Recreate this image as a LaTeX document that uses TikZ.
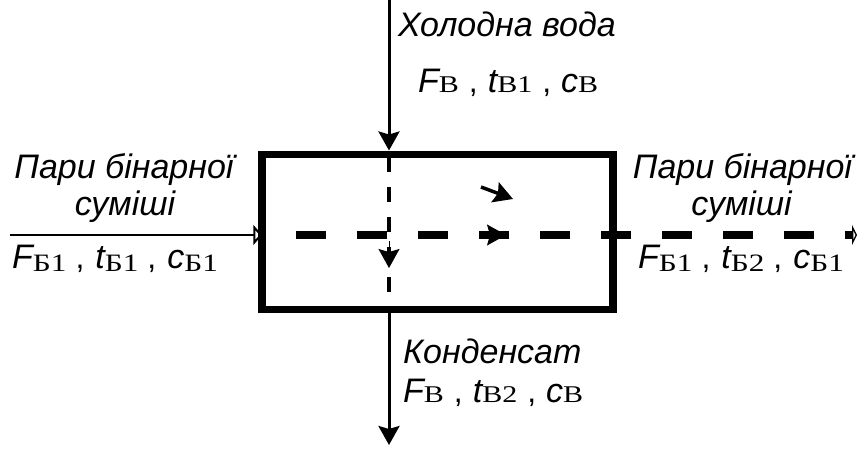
\documentclass[tikz,border=0pt]{standalone}
\usepackage{fontspec}
\setmainfont{Liberation Sans}
\newfontfamily\subserif[FakeStretch=1.25]{Liberation Serif}
\usetikzlibrary{arrows.meta}

\newcommand{\subsm}[1]{{\fontsize{24}{24}\selectfont\subserif #1}}
\newcommand{\sublg}[1]{\raisebox{-3pt}{\fontsize{25}{25}\selectfont\subserif #1}}
\newcommand{\vrb}[1]{{\fontsize{34}{34}\selectfont\itshape #1}}
\newcommand{\sepsm}{\hspace{10pt},\hspace{10pt}}
\newcommand{\seplg}{\hspace{9pt},\hspace{11pt}}

\begin{document}
\begin{tikzpicture}[x=1pt,y=-1pt,
    lbl/.style={inner sep=0pt, font=\fontsize{34}{34}\selectfont\itshape},
    frm/.style={inner sep=0pt, font=\fontsize{32}{32}\selectfont},
    feed/.style={line width=3pt},
    flowtip/.style={-{Stealth[length=19pt,width=21pt,inset=3pt]}}]
  \useasboundingbox (0,0) rectangle (860,455);
  \coordinate (wtop) at (389,0);
  \coordinate (wbot) at (389,445);
  \coordinate (vin) at (10,235);
  \coordinate (vout) at (857,235);
  \coordinate (dvtop) at (389,157);
  \coordinate (dvbot) at (389,306);
  \coordinate (dhst) at (265,235);
  \coordinate (avs) at (389,241);
  \coordinate (ave) at (389,268);
  \coordinate (ahs) at (482,235);
  \coordinate (ahe) at (506,235);
  \coordinate (ass) at (481,187);
  \coordinate (ase) at (513,199);
  \node[draw, line width=7.5pt, minimum width=351pt, minimum height=155pt, inner sep=0pt] (hx) at (437.5,231.75) {};
  \draw[feed, flowtip] (wtop) -- (wtop |- hx.north);
  \draw[feed, flowtip] (wtop |- hx.south) -- (wbot);
  \draw[line width=2.5pt, -{Triangle[open, length=9pt, width=20pt, line width=2pt]}, shorten >=-4pt] (vin) -- (vin -| hx.west);
  \draw[line width=3.5pt, dash pattern=on 15pt off 15pt] (dvtop) -- (dvbot);
  \draw[line width=8pt, dash pattern=on 30pt off 31pt, dash phase=30pt,
    -{Triangle[open, length=5pt, width=20pt, line width=2pt]}] (dhst) -- (vout);
  \draw[line width=1pt, flowtip] (avs) -- (ave);
  \draw[line width=1pt, flowtip] (ahs) -- (ahe);
  \draw[line width=3.5pt, flowtip] (ass) -- (ase);
  \node[lbl, anchor=base west] (cwname) at (398,36) {Холодна вода};
  \node[frm, anchor=base west] (cwdata) at (418,92) {\vrb{F}\subsm{В}\sepsm\vrb{t}\subsm{В1}\sepsm\vrb{c}\subsm{В}};
  \node[lbl, anchor=base] (inname) at (124,178) {Пари бінарної};
  \node[lbl, anchor=base] (inname2) at (125,215) {суміші};
  \node[frm, anchor=base west] (indata) at (12,268) {\vrb{F}\sublg{Б1}\seplg\vrb{t}\sublg{Б1}\seplg\vrb{c}\sublg{Б1}};
  \node[lbl, anchor=base] (outname) at (742.5,178) {Пари бінарної};
  \node[lbl, anchor=base] (outname2) at (741.5,215) {суміші};
  \node[frm, anchor=base west] (outdata) at (638,268) {\vrb{F}\sublg{Б1}\seplg\vrb{t}\sublg{Б2}\seplg\vrb{c}\sublg{Б1}};
  \node[lbl, anchor=base west] (cdname) at (403,363) {Конденсат};
  \node[frm, anchor=base west] (cddata) at (403,402) {\vrb{F}\subsm{В}\sepsm\vrb{t}\subsm{В2}\sepsm\vrb{c}\subsm{В}};
\end{tikzpicture}
\end{document}
